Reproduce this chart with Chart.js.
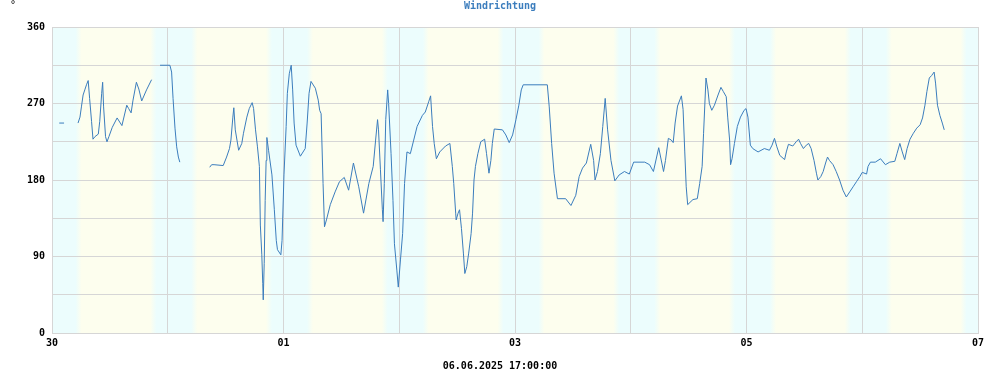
<!DOCTYPE html>
<html>
<head>
<meta charset="utf-8">
<title>Windrichtung</title>
<script src="https://cdn.jsdelivr.net/npm/chart.js@4.4.1/dist/chart.umd.min.js"></script>
<style>
  html, body { margin: 0; padding: 0; background: #fff; }
  #box { width: 1000px; height: 375px; position: relative; }
</style>
</head>
<body>
<div id="box"><canvas id="windChart"></canvas></div>
<script>
// Stunden ab 30.05.2025 00:00 (null = Datenluecke)
const hours = [
  1.5, 2.5, 4,
  5.4, 5.8, 6.1, 6.45, 6.8, 7.15, 7.5, 7.8, 8.2, 8.5, 8.9, 9.6, 9.9, 10.3, 10.5, 10.7,
  11.1, 11.4, 11.8, 12.5, 13.5, 14.5, 15.5, 15.9, 16.4, 16.8, 17.5, 18.0, 18.6, 19.6, 20.65, 21.5,
  22.4, 24.45, 24.8, 25.1, 25.5, 25.85, 26.2, 26.5, 30,
  32.7, 33.1, 33.6, 35.5, 36.2, 36.8, 37.1, 37.5, 37.7, 38.0, 38.7, 39.35, 39.7, 40.4, 40.9,
  41.5, 41.8, 42.2, 42.6, 43.0, 43.2, 43.5, 43.7, 43.8, 44.0, 44.2, 44.4, 44.55, 44.9, 45.6,
  46.1, 46.5, 46.75, 47.45, 47.7, 48.1, 48.55, 48.8, 49.2, 49.6, 49.9, 50.2, 50.6, 51.5, 52.5,
  52.9, 53.3, 53.7, 54.6, 55.2, 55.5, 55.8, 56.2, 56.5, 56.9, 57.7, 58.7, 59.6, 60.6, 61.5,
  62.5, 63.6, 64.6, 65.7, 66.6, 67.1, 67.5, 67.7, 68.1, 68.5, 68.65, 68.9, 69.2, 69.6, 69.8,
  70.3, 70.7, 71.0, 71.5, 71.8, 72.25, 72.7, 73.1, 73.6, 74.3, 75.0, 75.7, 76.8, 77.4, 78.1,
  78.5, 78.9, 79.25, 79.7, 80.4, 81.6, 82.5, 83.0, 83.3, 83.7, 83.8, 84.2, 84.5, 84.9, 85.3,
  85.6, 86.0, 86.4, 86.9, 87.2, 87.5, 87.8, 88.3, 88.9, 89.7, 90.1, 90.6, 91.0, 91.3, 91.7,
  93.4, 94.1, 94.8, 95.5, 96.2, 96.8, 97.3, 97.7, 102.7, 103.1, 103.6, 104.1, 104.8, 106.5,
  107.6, 108.6, 109.3, 110.0, 110.8, 111.7, 112.3, 112.6, 113.1, 113.7, 114.2, 114.7, 115.2,
  115.9, 116.7, 117.6, 118.7, 119.7, 120.6, 122.9, 123.9, 124.7, 125.8, 126.8, 127.2, 127.8,
  128.4, 128.8, 129.2, 129.7, 130.5, 130.85, 131.2, 131.5, 131.8, 132.9, 133.8, 134.3, 134.8,
  135.1, 135.6, 136.0, 136.3, 136.8, 137.35, 138.1, 138.7, 139.2, 139.8, 140.1, 140.5, 140.7,
  141.0, 141.5, 142.1, 142.75, 143.5, 143.9, 144.3, 144.8, 145.3, 146.4, 147.7, 148.75, 149.3,
  149.8, 150.3, 150.9, 151.9, 152.25, 152.7, 153.6, 154.3, 154.8, 155.2, 155.8, 156.4, 156.9,
  157.4, 158.0, 158.5, 158.8, 159.4, 159.9, 160.4, 160.8, 161.2, 161.95, 162.6, 163.3, 164.0,
  164.7, 165.4, 166.1, 166.8, 167.5, 168.0, 168.9, 169.2, 169.7, 170.7, 171.8, 172.8, 173.7,
  174.75, 175.2, 175.8, 176.3, 176.8, 177.3, 177.9, 178.6, 179.3, 180.0, 180.5, 181.0, 181.4,
  181.9, 182.4, 182.9, 183.2, 183.6, 184.1, 184.6, 185.0
];

// Windrichtung in Grad
const direction = [
  247, 247, null,
  247, 254, 266, 280, 286, 292, 297, 276, 249, 228, 231, 234, 249, 282, 295, 266,
  231, 225, 231, 242, 253, 244, 268, 264, 259, 274, 295, 287, 273, 286, 298, null,
  315, 315, 307, 276, 241, 219, 207, 201, null,
  195, 198, 198, 197, 207, 217, 227, 254, 265, 239, 215, 223, 235, 254, 264,
  271, 264, 239, 219, 196, 127, 92, 58, 39, 82, 156, 203, 230, 215, 186,
  145, 109, 98, 92, 109, 186, 243, 282, 305, 315, 286, 247, 221, 208, 217,
  247, 282, 296, 288, 274, 262, 258, 176, 125, 133, 151, 166, 178, 183, 168,
  200, 172, 141, 176, 196, 227, 251, 239, 192, 145, 131, 176, 251, 286, 270,
  211, 156, 105, 74, 54, 86, 117, 176, 213, 211, 227, 243, 256, 260, 272,
  279, 243, 223, 205, 213, 220, 223, 196, 176, 141, 133, 141, 145, 123, 94,
  70, 78, 94, 117, 141, 180, 196, 211, 225, 228, 211, 188, 203, 223, 240,
  239, 233, 224, 233, 251, 268, 286, 292, 292, 266, 223, 188, 158, 158,
  150, 162, 184, 194, 200, 222, 203, 180, 190, 211, 243, 276, 239,
  203, 179, 186, 190, 187, 201, 201, 198, 190, 218, 190, 203, 229,
  227, 224, 247, 267, 279, 263, 213, 172, 151, 157, 158, 176, 196,
  235, 300, 286, 270, 262, 268, 280, 289, 284, 278, 254, 227, 198,
  205, 223, 243, 254, 262, 264, 254, 221, 217, 213, 217, 215, 221,
  229, 219, 209, 204, 213, 222, 220, 225, 228, 223, 217, 221, 223,
  217, 203, 188, 180, 184, 190, 200, 207, 203, 198, 190, 180, 168,
  160, 166, 172, 178, 184, 189, 187, 196, 201, 201, 205, 198, 201,
  202, 211, 223, 213, 204, 217, 228, 235, 241, 245, 253, 268, 284,
  300, 303, 307, 294, 268, 256, 247, 239
];

const dayLabels = ['30', '', '01', '', '03', '', '05', '', '07'];
const dirLabels = ['0', '', '90', '', '180', '', '270', '', '360'];
const stampText = '06.06.2025 17:00:00';

// Nacht (hellblau) relativ zu Mitternacht, in Stunden
const nightStart = -3.0;
const nightEnd = 5.5;

const gridColor = '#d6d6d6';
const dayColor = '#fdfeee';
const nightColor = '#ecfdfd';
const monoFont = { family: 'DejaVu Sans Mono', size: 10, weight: 'bold' };

const dayNightBands = {
  id: 'dayNightBands',
  beforeDraw(chart) {
    const { ctx, chartArea: a, scales: { x } } = chart;
    ctx.save();
    ctx.beginPath();
    ctx.rect(a.left, a.top, a.right - a.left, a.bottom - a.top);
    ctx.clip();
    ctx.fillStyle = dayColor;
    ctx.fillRect(a.left, a.top, a.right - a.left, a.bottom - a.top);
    const fade = 3;
    for (let d = 0; d <= 8; d++) {
      const x0 = x.getPixelForValue(d * 24 + nightStart);
      const x1 = x.getPixelForValue(d * 24 + nightEnd);
      const s = x0 - fade, e = x1 + fade, w = e - s;
      const g = ctx.createLinearGradient(s, 0, e, 0);
      g.addColorStop(0, dayColor);
      g.addColorStop((2 * fade) / w, nightColor);
      g.addColorStop(1 - (2 * fade) / w, nightColor);
      g.addColorStop(1, dayColor);
      ctx.fillStyle = g;
      ctx.fillRect(s, a.top, w, a.bottom - a.top);
    }
    ctx.restore();
  },
  afterDraw(chart) {
    const ctx = chart.ctx;
    ctx.save();
    ctx.fillStyle = '#000';
    ctx.font = '10px "DejaVu Sans Mono"';
    ctx.textBaseline = 'middle';
    ctx.fillText('°', 10, 5);
    ctx.restore();
  }
};

const points = hours.map((h, i) => ({ x: h, y: direction[i] }));

new Chart(document.getElementById('windChart'), {
  type: 'line',
  data: {
    datasets: [{
      label: 'Windrichtung',
      data: points,
      borderColor: '#3b7dbd',
      borderWidth: 1,
      pointRadius: 0,
      tension: 0,
      spanGaps: false,
      fill: false
    }]
  },
  options: {
    responsive: true,
    maintainAspectRatio: false,
    animation: false,
    layout: { padding: 0 },
    plugins: {
      legend: { display: false },
      tooltip: { enabled: false },
      title: {
        display: true,
        text: 'Windrichtung',
        color: '#3b7dbd',
        font: monoFont,
        padding: { top: 0, bottom: 15 }
      },
      subtitle: {
        display: true,
        position: 'bottom',
        text: stampText,
        color: '#000',
        font: monoFont,
        padding: { top: 9, bottom: 3 }
      }
    },
    scales: {
      x: {
        type: 'linear',
        min: 0,
        max: 192,
        afterFit: (scale) => { scale.height = 18; },
        ticks: {
          stepSize: 24,
          autoSkip: false,
          maxRotation: 0,
          padding: 4,
          color: '#000',
          font: monoFont,
          callback: (v) => dayLabels[Math.round(v / 24)]
        },
        grid: { color: gridColor, drawTicks: false },
        border: { color: gridColor }
      },
      y: {
        min: 0,
        max: 360,
        afterFit: (scale) => { scale.width = 52; },
        ticks: {
          stepSize: 45,
          autoSkip: false,
          padding: 7,
          color: '#000',
          font: monoFont,
          callback: (v) => dirLabels[Math.round(v / 45)]
        },
        grid: { color: gridColor, drawTicks: false },
        border: { color: gridColor }
      },
      // leerer Rand rechts, damit Titel und Datum mittig ueber der Seite stehen
      yRight: {
        position: 'right',
        min: 0,
        max: 360,
        afterFit: (scale) => { scale.width = 22; },
        ticks: { display: false },
        grid: { display: false, drawTicks: false },
        border: { display: false }
      }
    }
  },
  plugins: [dayNightBands]
});
</script>
</body>
</html>
